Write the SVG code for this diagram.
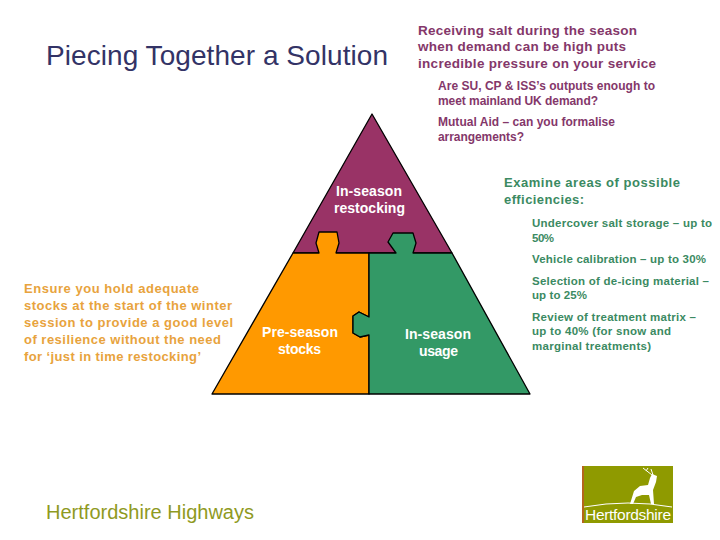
<svg xmlns="http://www.w3.org/2000/svg" width="720" height="540" viewBox="0 0 720 540">
<style>
text{font-family:"Liberation Sans",Arial,sans-serif}
.t{font-size:28px;fill:#333366}
.b{font-weight:bold;fill:#84376a}
.g{font-weight:bold;fill:#3b8a62}
.o{font-weight:bold;fill:#e8a33d}
.w{font-weight:bold;font-size:14px;fill:#fff}
.p{stroke:#000;stroke-width:1.3;stroke-linejoin:round}
</style>
<rect width="720" height="540" fill="#fff"/>
<text class="t" x="46" y="65" textLength="342">Piecing Together a Solution</text>
<g id="top-notes">
<text class="b" font-size="13.5" x="418" y="35" textLength="219">Receiving salt during the season</text>
<text class="b" font-size="13.5" x="418" y="51" textLength="208">when demand can be high puts</text>
<text class="b" font-size="13.5" x="418" y="68" textLength="238">incredible pressure on your service</text>
<text class="b" font-size="12" x="438" y="90" textLength="217">Are SU, CP &amp; ISS’s outputs enough to</text>
<text class="b" font-size="12" x="438" y="105" textLength="160">meet mainland UK demand?</text>
<text class="b" font-size="12" x="438" y="126" textLength="177">Mutual Aid – can you formalise</text>
<text class="b" font-size="12" x="438" y="141" textLength="86">arrangements?</text>
</g>
<g id="node-restocking">
<path class="p" fill="#993366" d="M372 114L452 253L293 253Z"/>
<text class="w" x="336" y="196" textLength="66">In-season</text>
<text class="w" x="334" y="213" textLength="71">restocking</text>
</g>
<g id="node-preseason">
<path class="p" fill="#ff9900" d="M293 253L319 253L316 243L319 232L337 232L339 243L336 253L369 253L369 317L359 312L353 316L353 333L360 337L369 335L369 394L212 394Z"/>
<text class="w" x="262" y="337" textLength="76">Pre-season</text>
<text class="w" x="278" y="354" textLength="43">stocks</text>
</g>
<g id="node-usage">
<path class="p" fill="#339966" d="M369 253L396 253L388 242L393 233L413 233L416 243L413 253L452 253L530 394L369 394L369 335L360 337L353 333L353 316L359 312L369 317Z"/>
<text class="w" x="405" y="339" textLength="66">In-season</text>
<text class="w" x="419" y="356" textLength="39">usage</text>
</g>
<g id="left-note">
<text class="o" font-size="13" x="24" y="293" textLength="175">Ensure you hold adequate</text>
<text class="o" font-size="13" x="24" y="310" textLength="208">stocks at the start of the winter</text>
<text class="o" font-size="13" x="24" y="327" textLength="209">session to provide a good level</text>
<text class="o" font-size="13" x="24" y="344" textLength="197">of resilience without the need</text>
<text class="o" font-size="13" x="24" y="361" textLength="177">for ‘just in time restocking’</text>
</g>
<g id="right-notes">
<text class="g" font-size="13" x="504" y="187" textLength="176">Examine areas of possible</text>
<text class="g" font-size="13" x="504" y="204" textLength="80">efficiencies:</text>
<text class="g" font-size="11.5" x="532" y="227" textLength="180">Undercover salt storage – up to</text>
<text class="g" font-size="11.5" x="532" y="242" textLength="22">50%</text>
<text class="g" font-size="11.5" x="532" y="263" textLength="174">Vehicle calibration – up to 30%</text>
<text class="g" font-size="11.5" x="532" y="285" textLength="177">Selection of de-icing material –</text>
<text class="g" font-size="11.5" x="532" y="299" textLength="55">up to 25%</text>
<text class="g" font-size="11.5" x="532" y="321" textLength="164">Review of treatment matrix –</text>
<text class="g" font-size="11.5" x="532" y="335" textLength="139">up to 40% (for snow and</text>
<text class="g" font-size="11.5" x="532" y="350" textLength="119">marginal treatments)</text>
</g>
<text x="46" y="519" font-size="20" fill="#8f9a1f" textLength="208">Hertfordshire Highways</text>
<g id="logo">
<rect x="582" y="466" width="91" height="57" fill="#8f9a00"/>
<rect x="582" y="466" width="2" height="57" fill="#b5651d"/>
<path fill="#fff" d="M630 504L634 491L640 486L648 485L650 478L652 474L657 476L656 482L653 490L654 504L651 504L649 495L642 495L636 497L633 504Z"/>
<path fill="none" stroke="#fff" d="M652 475L643 468M646 471L648 468M653 475L651 469M584 507Q628 499 672 507"/>
<text x="585" y="520" fill="#fff" font-size="15.5" textLength="86">Hertfordshire</text>
</g>
</svg>
